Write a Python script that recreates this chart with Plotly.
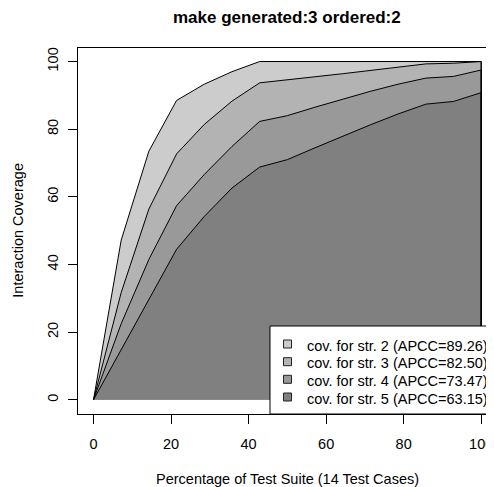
import plotly.graph_objects as go

# ---- data ----
n_tests = 14
tests = [0, 1, 2, 3, 4, 5, 6, 7, 8, 9, 10, 11, 12, 13, 14]
cov_str2 = [0, 47.2, 73.5, 88.5, 93.3, 97.0, 100, 100, 100, 100, 100, 100, 100, 100, 100]
cov_str3 = [0, 31.7, 56.4, 72.7, 81.4, 88.3, 93.7, 94.5, 95.5, 96.4, 97.3, 98.3, 99.3, 99.5, 100]
cov_str4 = [0, 22.5, 41.5, 57.4, 66.6, 74.9, 82.3, 84.0, 86.5, 88.9, 91.2, 93.3, 95.1, 95.6, 97.5]
cov_str5 = [0, 14.7, 29.5, 44.5, 54.2, 62.6, 68.8, 71.0, 74.5, 78.0, 81.3, 84.5, 87.4, 88.2, 90.8]
strengths = [2, 3, 4, 5]
apcc = ["89.26", "82.50", "73.47", "63.15"]
x_ticks = [0, 20, 40, 60, 80, 100]
y_ticks = [0, 20, 40, 60, 80, 100]
title = "make generated:3 ordered:2"
x_title = "Percentage of Test Suite (14 Test Cases)"
y_title = "Interaction Coverage"

series = [cov_str2, cov_str3, cov_str4, cov_str5]
fills = ["#cccccc", "#b3b3b3", "#999999", "#808080"]
FONT = "Liberation Sans, Arial, Helvetica, sans-serif"
FS = 14.5

pct = [t * 100 / n_tests for t in tests]

OFF = 8  # page body margin
W, H = 486, 479
L, R, T, B = 70, 0, 40, 73
pw, ph = W - L - R, H - T - B


def px_x(p):
    return (p - OFF - L) / pw


def px_y(p):
    return (H - B - (p - OFF)) / ph


fig = go.Figure()
for ys, col in zip(series, fills):
    fig.add_trace(go.Scatter(
        x=pct + [pct[-1], pct[0]], y=ys + [0, 0], fill="toself",
        fillcolor=col, mode="lines", line=dict(width=0, color=col),
        hoverinfo="skip", showlegend=False))
for ys in series:
    fig.add_trace(go.Scatter(
        x=pct + [pct[-1]], y=ys + [0], mode="lines",
        line=dict(color="black", width=1), hoverinfo="skip", showlegend=False))

shapes = []
annotations = []
# legend (bottom-right, inside plot)
leg_left, leg_top = 270, 326
shapes.append(dict(type="rect", xref="paper", yref="paper",
                   x0=px_x(leg_left), x1=1.05, y0=0, y1=px_y(leg_top),
                   fillcolor="white", line=dict(color="black", width=1)))
row_y = [344, 361.7, 379.3, 397]
for s, a, col, ry in zip(strengths, apcc, fills, row_y):
    shapes.append(dict(type="rect", xref="paper", yref="paper",
                       x0=px_x(283.5), x1=px_x(291.5), y0=px_y(ry + 4), y1=px_y(ry - 4),
                       fillcolor=col, line=dict(color="#222222", width=1)))
    annotations.append(dict(xref="paper", yref="paper", x=px_x(305), y=px_y(ry + 1.5),
                            xanchor="left", yanchor="middle", showarrow=False,
                            text=f"cov. for str. {s} (APCC={a})",
                            font=dict(family=FONT, size=FS, color="black")))

annotations.append(dict(xref="x", yref="paper", x=50, y=px_y(18), xanchor="center",
                        yanchor="middle", showarrow=False, text=f"<b>{title}</b>",
                        font=dict(family=FONT, size=17, color="black")))
annotations.append(dict(xref="x", yref="paper", x=50, y=px_y(479), xanchor="center",
                        yanchor="middle", showarrow=False, text=x_title,
                        font=dict(family=FONT, size=FS, color="black")))
annotations.append(dict(xref="paper", yref="y", x=px_x(18), y=50, xanchor="center",
                        yanchor="middle", showarrow=False, text=y_title, textangle=-90,
                        font=dict(family=FONT, size=FS, color="black")))

fig.update_layout(
    width=W, height=H, margin=dict(l=L, r=R, t=T, b=B, pad=0),
    paper_bgcolor="white", plot_bgcolor="white", showlegend=False,
    shapes=shapes, annotations=annotations,
    font=dict(family=FONT, size=FS, color="black"),
)
fig.update_xaxes(range=[-4, -4 + pw / 3.877], tickvals=x_ticks,
                 ticktext=[str(v) for v in x_ticks], ticks="outside", ticklen=9,
                 tickcolor="black", tickwidth=1, showgrid=False, zeroline=False,
                 showline=True, linecolor="black", linewidth=1, mirror=True,
                 ticklabelstandoff=8, tickfont=dict(family=FONT, size=FS, color="black"))
fig.update_yaxes(range=[-4.2, 104], tickvals=y_ticks,
                 ticktext=[str(v) for v in y_ticks], ticks="outside", ticklen=9,
                 tickcolor="black", tickwidth=1, showgrid=False, zeroline=False,
                 showline=True, linecolor="black", linewidth=1, mirror=False,
                 tickangle=-90, ticklabelstandoff=4,
                 tickfont=dict(family=FONT, size=FS, color="black"))

fig.write_html("out.html")
